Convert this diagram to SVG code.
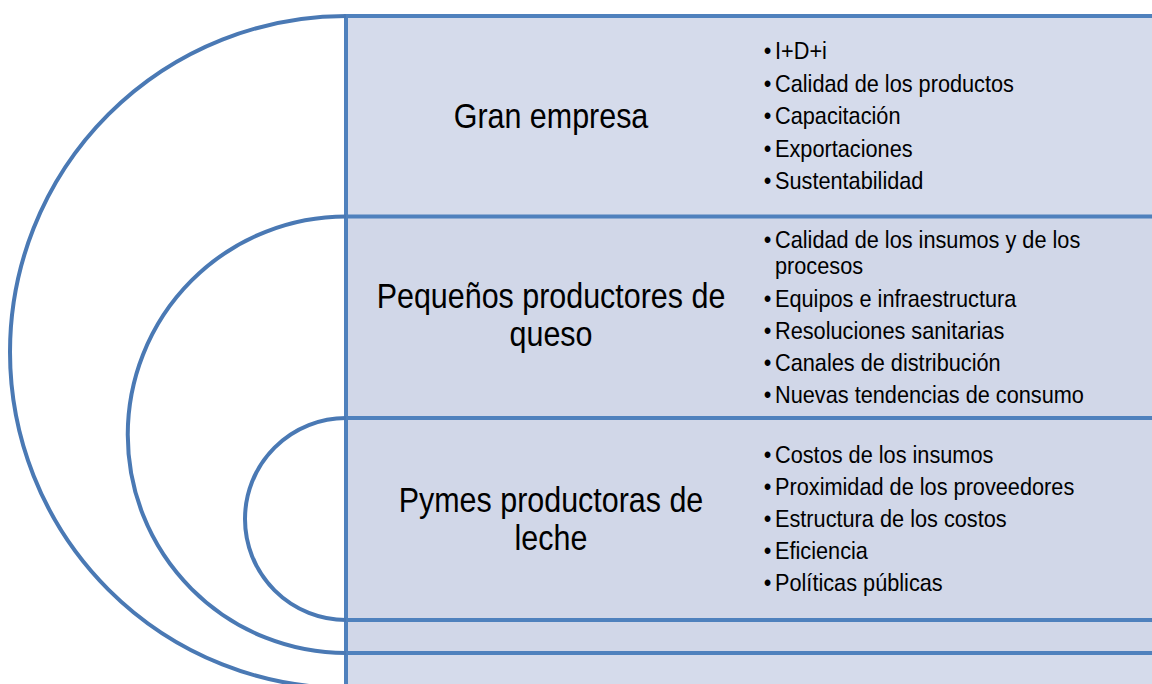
<svg xmlns="http://www.w3.org/2000/svg" width="1152" height="684" viewBox="0 0 1152 684">
<style>
.rect-outer{fill:#D5DBEB;stroke:#4F81BD;stroke-width:4}
.rect-inner{fill:#D1D7E8;stroke:#4F81BD;stroke-width:4}
.arc{fill:none;stroke:#4A79B4;stroke-width:4}
.title{font-family:"Liberation Sans",Arial,sans-serif;font-size:35px;fill:#000;text-anchor:middle}
.item{font-family:"Liberation Sans",Arial,sans-serif;font-size:24px;fill:#000}
</style>
<rect width="1152" height="684" fill="#FFFFFF"/>
<g id="node-gran-empresa">
  <rect class="rect-outer" x="346" y="16" width="820" height="672"/>
  <path class="arc" d="M346,16 A336,336 0 0 0 346,688"/>
</g>
<g id="node-pequenos">
  <rect class="rect-inner" x="346" y="216.5" width="820" height="436.5"/>
  <path class="arc" d="M346,216.5 A218.25,218.25 0 0 0 346,653"/>
</g>
<g id="node-pymes">
  <rect class="rect-inner" x="346" y="418" width="820" height="202"/>
  <path class="arc" d="M346,418 A101,101 0 0 0 346,620"/>
</g>
<g id="connectors"></g>
<g id="label-gran-empresa">
  <text class="title" transform="translate(551,127.7) scale(0.87,1)">Gran empresa</text>
  <g transform="translate(775,0) scale(0.905,1)">
    <text class="item" x="-12.5" y="59.5">•</text><text class="item" x="0" y="59.5">I+D+i</text>
    <text class="item" x="-12.5" y="92">•</text><text class="item" x="0" y="92">Calidad de los productos</text>
    <text class="item" x="-12.5" y="124.5">•</text><text class="item" x="0" y="124.5">Capacitación</text>
    <text class="item" x="-12.5" y="157">•</text><text class="item" x="0" y="157">Exportaciones</text>
    <text class="item" x="-12.5" y="189.5">•</text><text class="item" x="0" y="189.5">Sustentabilidad</text>
  </g>
</g>
<g id="label-pequenos">
  <text class="title" transform="translate(551,308.3) scale(0.87,1)">Pequeños productores de</text>
  <text class="title" transform="translate(551,346) scale(0.87,1)">queso</text>
  <g transform="translate(775,0) scale(0.905,1)">
    <text class="item" x="-12.5" y="247.7">•</text><text class="item" x="0" y="247.7">Calidad de los insumos y de los</text>
    <text class="item" x="0" y="274.5">procesos</text>
    <text class="item" x="-12.5" y="307.3">•</text><text class="item" x="0" y="307.3">Equipos e infraestructura</text>
    <text class="item" x="-12.5" y="339.3">•</text><text class="item" x="0" y="339.3">Resoluciones sanitarias</text>
    <text class="item" x="-12.5" y="371.5">•</text><text class="item" x="0" y="371.5">Canales de distribución</text>
    <text class="item" x="-12.5" y="403.3">•</text><text class="item" x="0" y="403.3">Nuevas tendencias de consumo</text>
  </g>
</g>
<g id="label-pymes">
  <text class="title" transform="translate(551,512) scale(0.87,1)">Pymes productoras de</text>
  <text class="title" transform="translate(551,549.5) scale(0.87,1)">leche</text>
  <g transform="translate(775,0) scale(0.905,1)">
    <text class="item" x="-12.5" y="463.3">•</text><text class="item" x="0" y="463.3">Costos de los insumos</text>
    <text class="item" x="-12.5" y="495.3">•</text><text class="item" x="0" y="495.3">Proximidad de los proveedores</text>
    <text class="item" x="-12.5" y="527.3">•</text><text class="item" x="0" y="527.3">Estructura de los costos</text>
    <text class="item" x="-12.5" y="559.3">•</text><text class="item" x="0" y="559.3">Eficiencia</text>
    <text class="item" x="-12.5" y="591.3">•</text><text class="item" x="0" y="591.3">Políticas públicas</text>
  </g>
</g>
</svg>
